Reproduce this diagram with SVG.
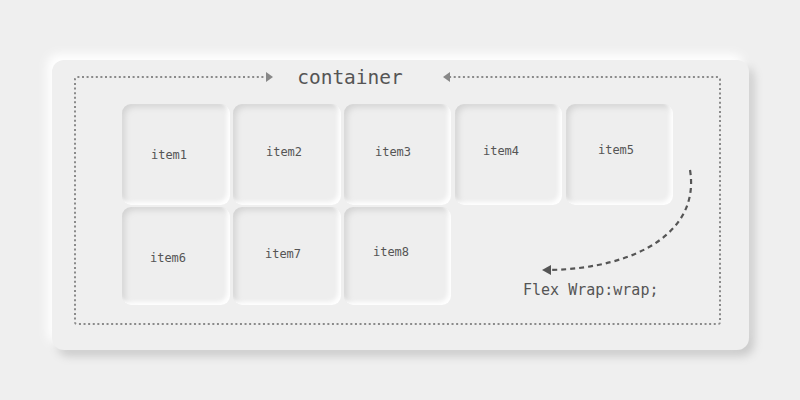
<svg xmlns="http://www.w3.org/2000/svg" width="800" height="400" viewBox="0 0 800 400">
<defs>
<style>
.item{fill:#eeeeee;filter:url(#inset)}
.lbl{font-family:"DejaVu Sans Mono","Liberation Mono",monospace;font-size:12px;fill:#555;text-anchor:middle}
.dot{fill:none;stroke:#8a8a8a;stroke-width:2;stroke-dasharray:2 2.6}
</style>
<filter id="raised" x="-10%" y="-10%" width="120%" height="125%">
<feGaussianBlur in="SourceAlpha" stdDeviation="5"/>
<feOffset dx="5" dy="6" result="b1"/>
<feFlood flood-color="#c9c9c9"/>
<feComposite in2="b1" operator="in" result="dark"/>
<feGaussianBlur in="SourceAlpha" stdDeviation="5"/>
<feOffset dx="-5" dy="-6" result="b2"/>
<feFlood flood-color="#ffffff"/>
<feComposite in2="b2" operator="in" result="light"/>
<feMerge><feMergeNode in="dark"/><feMergeNode in="light"/><feMergeNode in="SourceGraphic"/></feMerge>
</filter>
<filter id="inset" x="-10%" y="-10%" width="120%" height="120%">
<feFlood flood-color="#d2d2d2"/>
<feComposite in2="SourceAlpha" operator="out"/>
<feGaussianBlur stdDeviation="3"/>
<feOffset dx="3" dy="3"/>
<feComposite in2="SourceAlpha" operator="in" result="dark"/>
<feFlood flood-color="#ffffff"/>
<feComposite in2="SourceAlpha" operator="out"/>
<feGaussianBlur stdDeviation="2"/>
<feOffset dx="-3" dy="-3"/>
<feComposite in2="SourceAlpha" operator="in" result="light"/>
<feMerge><feMergeNode in="SourceGraphic"/><feMergeNode in="dark"/><feMergeNode in="light"/></feMerge>
</filter>
</defs>
<rect width="800" height="400" fill="#efefef"/>
<g id="container">
<rect x="52" y="60" width="697" height="290" rx="12" fill="#efefef" filter="url(#raised)"/>
<text x="350" y="84" font-family="'DejaVu Sans Mono','Liberation Mono',monospace" font-size="19.5" fill="#555" text-anchor="middle">container</text>
</g>
<g id="connectors">
<path class="dot" d="M268,77 H77 Q75,77 75,79 V322 Q75,324 77,324 H718 Q720,324 720,322 V79 Q720,77 718,77 H447"/>
<path d="M266,72 L273,77 L266,82 z" fill="#888"/>
<path d="M450,72 L443,77 L450,82 z" fill="#888"/>
<path d="M690,170 C700,230 640,268 550,270" fill="none" stroke="#555" stroke-width="2.2" stroke-dasharray="5 4"/>
<path d="M551,265 L542,270 L551,275 z" fill="#555"/>
<text x="523" y="295" font-family="'DejaVu Sans Mono','Liberation Mono',monospace" font-size="15" fill="#555">Flex Wrap:wrap;</text>
</g>
<g id="item1"><rect class="item" x="122" y="104" width="108" height="101" rx="9"/><text class="lbl" x="169" y="159">item1</text></g>
<g id="item2"><rect class="item" x="233" y="104" width="108" height="101" rx="9"/><text class="lbl" x="284" y="156">item2</text></g>
<g id="item3"><rect class="item" x="344" y="104" width="107" height="101" rx="9"/><text class="lbl" x="393" y="156">item3</text></g>
<g id="item4"><rect class="item" x="455" y="104" width="107" height="101" rx="9"/><text class="lbl" x="501" y="155">item4</text></g>
<g id="item5"><rect class="item" x="566" y="104" width="107" height="101" rx="9"/><text class="lbl" x="616" y="154">item5</text></g>
<g id="item6"><rect class="item" x="122" y="207" width="108" height="98" rx="9"/><text class="lbl" x="168" y="262">item6</text></g>
<g id="item7"><rect class="item" x="233" y="207" width="108" height="98" rx="9"/><text class="lbl" x="283" y="258">item7</text></g>
<g id="item8"><rect class="item" x="344" y="207" width="107" height="98" rx="9"/><text class="lbl" x="391" y="256">item8</text></g>
</svg>
